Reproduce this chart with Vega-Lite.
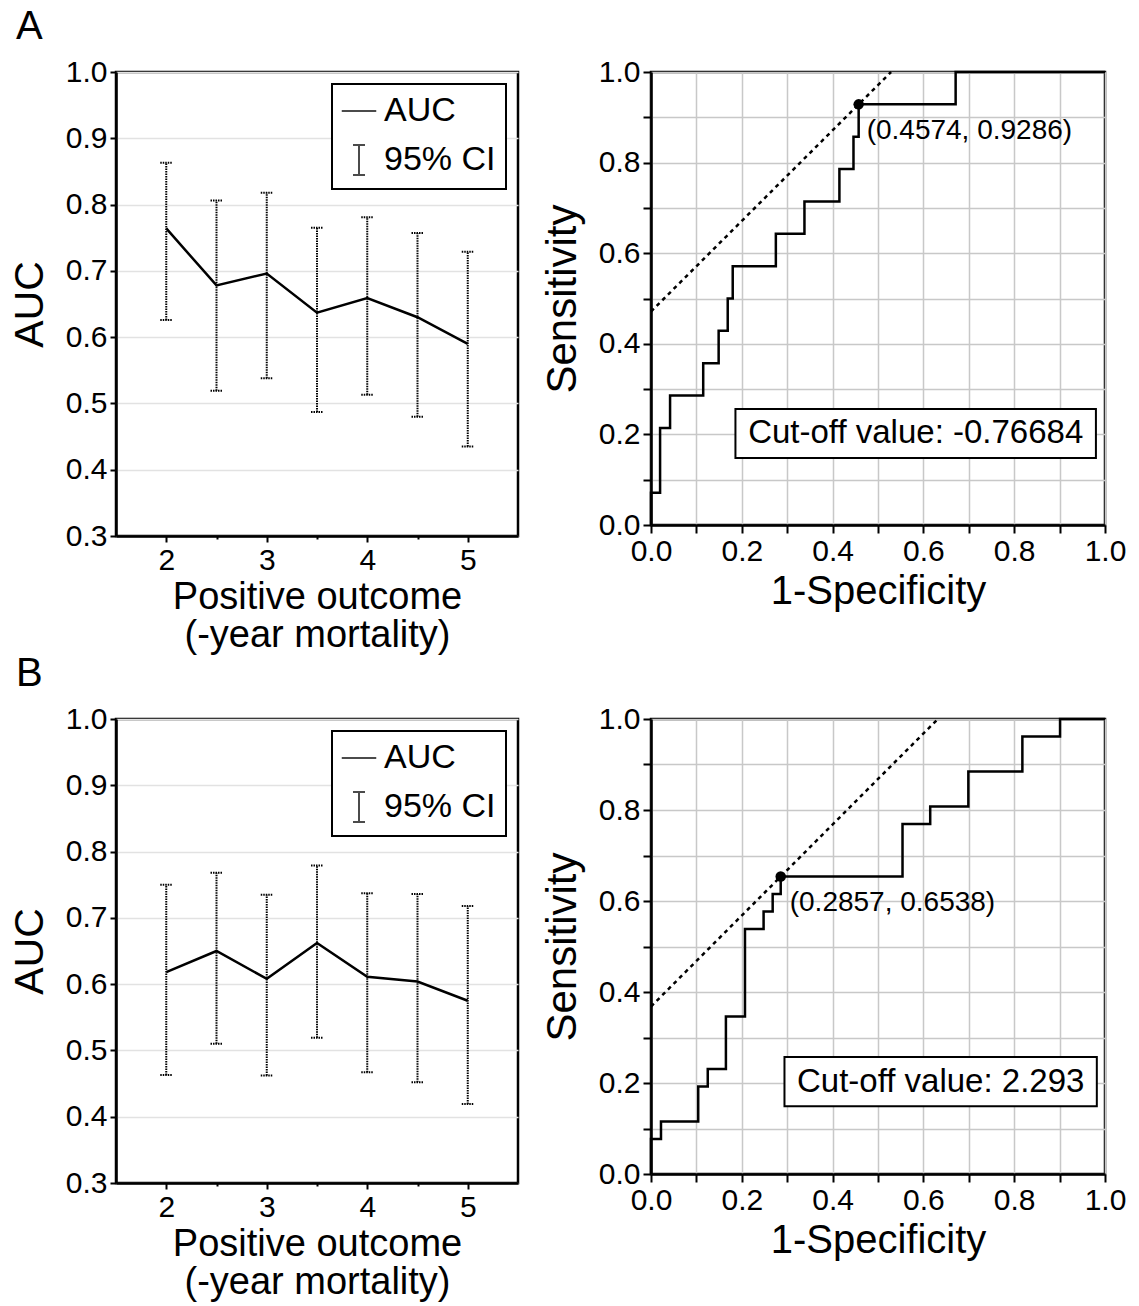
{
  "$schema": "https://vega.github.io/schema/vega-lite/v6.json",
  "padding": {"left": 8, "top": 6, "right": 5, "bottom": 5},
  "background": "white",
  "config": {
    "font": "Liberation Sans",
    "view": {"stroke": "black", "strokeWidth": 2.5},
    "axis": {
      "domainColor": "black", "domainWidth": 2.5,
      "tickColor": "black", "tickWidth": 2,
      "labelFont": "Liberation Sans", "labelFontSize": 30, "labelColor": "black",
      "titleFont": "Liberation Sans", "titleFontWeight": "normal", "titleColor": "black",
      "labelOverlap": false, "labelFlush": false, "labelPadding": 3
    },
    "axisX": {"titleFontSize": 37, "titlePadding": 5},
    "axisY": {"titleFontSize": 41, "titlePadding": 14},
    "legend": {"strokeColor": "black", "strokeWidth": 2, "fillColor": "white"},
    "title": {"fontSize": 40, "fontWeight": "normal", "anchor": "start", "font": "Liberation Sans", "color": "black", "offset": 9, "dx": 8}
  },
  "datasets": {
    "aucA": [
      {"outcome": 2, "auc": 0.764, "lower": 0.626, "upper": 0.863},
      {"outcome": 2.5, "auc": 0.678, "lower": 0.519, "upper": 0.806},
      {"outcome": 3, "auc": 0.696, "lower": 0.538, "upper": 0.818},
      {"outcome": 3.5, "auc": 0.637, "lower": 0.487, "upper": 0.765},
      {"outcome": 4, "auc": 0.659, "lower": 0.513, "upper": 0.781},
      {"outcome": 4.5, "auc": 0.630, "lower": 0.480, "upper": 0.757},
      {"outcome": 5, "auc": 0.590, "lower": 0.435, "upper": 0.729}
    ],
    "aucB": [
      {"outcome": 2, "auc": 0.618, "lower": 0.463, "upper": 0.750},
      {"outcome": 2.5, "auc": 0.650, "lower": 0.510, "upper": 0.768},
      {"outcome": 3, "auc": 0.608, "lower": 0.462, "upper": 0.735},
      {"outcome": 3.5, "auc": 0.662, "lower": 0.519, "upper": 0.779},
      {"outcome": 4, "auc": 0.611, "lower": 0.467, "upper": 0.737},
      {"outcome": 4.5, "auc": 0.604, "lower": 0.452, "upper": 0.736},
      {"outcome": 5, "auc": 0.575, "lower": 0.419, "upper": 0.718}
    ],
    "series": [{"series": "AUC"}, {"series": "95% CI"}],
    "rocA": [
      {"fpr": 0, "tpr": 0}, {"fpr": 0, "tpr": 0.0714}, {"fpr": 0.020, "tpr": 0.2143},
      {"fpr": 0.042, "tpr": 0.2857}, {"fpr": 0.115, "tpr": 0.3571}, {"fpr": 0.149, "tpr": 0.4286},
      {"fpr": 0.169, "tpr": 0.5}, {"fpr": 0.180, "tpr": 0.5714}, {"fpr": 0.275, "tpr": 0.6429},
      {"fpr": 0.338, "tpr": 0.7143}, {"fpr": 0.415, "tpr": 0.7857}, {"fpr": 0.446, "tpr": 0.8571},
      {"fpr": 0.4574, "tpr": 0.9286}, {"fpr": 0.671, "tpr": 1.0}, {"fpr": 1.0, "tpr": 1.0}
    ],
    "rocB": [
      {"fpr": 0, "tpr": 0}, {"fpr": 0, "tpr": 0.0769}, {"fpr": 0.022, "tpr": 0.1154},
      {"fpr": 0.104, "tpr": 0.1923}, {"fpr": 0.125, "tpr": 0.2308}, {"fpr": 0.165, "tpr": 0.3462},
      {"fpr": 0.207, "tpr": 0.5385}, {"fpr": 0.248, "tpr": 0.5769}, {"fpr": 0.268, "tpr": 0.6154},
      {"fpr": 0.2857, "tpr": 0.6538}, {"fpr": 0.554, "tpr": 0.7692}, {"fpr": 0.615, "tpr": 0.8077},
      {"fpr": 0.699, "tpr": 0.8846}, {"fpr": 0.818, "tpr": 0.9615}, {"fpr": 0.901, "tpr": 1.0},
      {"fpr": 1.0, "tpr": 1.0}
    ],
    "tanA": [{"fpr": 0, "tpr": 0.4712}, {"fpr": 0.5288, "tpr": 1.0}],
    "tanB": [{"fpr": 0, "tpr": 0.3681}, {"fpr": 0.6319, "tpr": 1.0}],
    "cutA": [{"fpr": 0.4574, "tpr": 0.9286, "label": "(0.4574, 0.9286)", "cutoff": "Cut-off value: -0.76684"}],
    "cutB": [{"fpr": 0.2857, "tpr": 0.6538, "label": "(0.2857, 0.6538)", "cutoff": "Cut-off value: 2.293"}]
  },
  "spacing": -3,
  "resolve": {"scale": {"shape": "independent"}, "legend": {"shape": "independent"}},
  "vconcat": [
    {
      "title": {"text": "A"},
      "spacing": 20,
      "resolve": {"scale": {"shape": "independent"}, "legend": {"shape": "independent"}},
      "hconcat": [
        {
          "width": 402, "height": 464,
          "data": {"name": "aucA"},
          "encoding": {
            "x": {"field": "outcome", "type": "quantitative", "scale": {"domain": [1.5, 5.5], "nice": false},
              "axis": {"values": [2, 2.5, 3, 3.5, 4, 4.5, 5], "labelExpr": "datum.value % 1 == 0 ? format(datum.value, 'd') : ''",
                "tickSize": {"condition": {"test": "datum.value % 1 == 0", "value": 6}, "value": 3},
                "grid": false, "title": ["Positive outcome", "(-year mortality)"], "titleFontSize": 38, "titleLineHeight": 38, "titlePadding": 3}}
          },
          "layer": [
            {"mark": {"type": "rule", "color": "black", "strokeWidth": 2, "strokeDash": [1.5, 1]},
              "encoding": {
                "y": {"field": "lower", "type": "quantitative", "scale": {"domain": [0.3, 1.0], "nice": false},
                  "axis": {"values": [0.3, 0.35, 0.4, 0.45, 0.5, 0.55, 0.6, 0.65, 0.7, 0.75, 0.8, 0.85, 0.9, 0.95, 1.0],
                    "labelExpr": "abs(datum.value*10 - round(datum.value*10)) < 0.001 ? format(datum.value, '.1f') : ''",
                    "tickSize": {"condition": {"test": "abs(datum.value*10 - round(datum.value*10)) < 0.001", "value": 6}, "value": 3},
                    "grid": true, "gridColor": "#e2e2e2", "gridWidth": 1.5, "title": "AUC"}},
                "y2": {"field": "upper"}}},
            {"mark": {"type": "rule", "color": "black", "strokeWidth": 2, "strokeDash": [1.5, 1], "xOffset": -6, "x2Offset": 6},
              "encoding": {"x2": {"field": "outcome"}, "y": {"field": "upper", "type": "quantitative"}}},
            {"mark": {"type": "rule", "color": "black", "strokeWidth": 2, "strokeDash": [1.5, 1], "xOffset": -6, "x2Offset": 6},
              "encoding": {"x2": {"field": "outcome"}, "y": {"field": "lower", "type": "quantitative"}}},
            {"mark": {"type": "line", "color": "black", "strokeWidth": 2.5},
              "encoding": {"y": {"field": "auc", "type": "quantitative"}}},
            {"data": {"name": "series"}, "transform": [{"filter": "false"}],
              "mark": {"type": "point", "filled": false, "color": "black", "strokeWidth": 2},
              "encoding": {
                "x": {"datum": 3},
                "y": {"datum": 0.5},
                "shape": {"field": "series", "type": "nominal",
                  "scale": {"domain": ["AUC", "95% CI"], "range": ["M-1.15,0H1.15", "M-0.4,-1H0.4M0,-1V1M-0.4,1H0.4"]},
                  "legend": {"orient": "top-right", "offset": 12, "title": null, "labelFontSize": 34, "labelColor": "black",
                    "labelFont": "Liberation Sans", "padding": 10, "symbolSize": 900, "symbolStrokeWidth": 2,
                    "symbolStrokeColor": "black", "symbolFillColor": "transparent", "rowPadding": 13, "labelOffset": 8}}
              }}
          ]
        },
        {
          "width": 454, "height": 453,
          "layer": [
            {"data": {"name": "tanA"}, "mark": {"type": "line", "color": "black", "strokeWidth": 2.5, "strokeDash": [4, 4]},
              "encoding": {
                "x": {"field": "fpr", "type": "quantitative", "scale": {"domain": [0, 1], "nice": false},
                  "axis": {"values": [0, 0.05, 0.1, 0.15, 0.2, 0.25, 0.3, 0.35, 0.4, 0.45, 0.5, 0.55, 0.6, 0.65, 0.7, 0.75, 0.8, 0.85, 0.9, 0.95, 1.0],
                    "labelExpr": "abs(datum.value*5 - round(datum.value*5)) < 0.001 ? format(datum.value, '.1f') : ''",
                    "tickSize": {"condition": {"test": "abs(datum.value*10 - round(datum.value*10)) < 0.001", "value": 8}, "value": 4},
                    "grid": true, "gridColor": "#c8c8c8", "gridWidth": 1.5,
                    "gridOpacity": {"condition": {"test": "abs(datum.value*10 - round(datum.value*10)) < 0.001", "value": 1}, "value": 0},
                    "title": "1-Specificity", "titleFontSize": 40}},
                "y": {"field": "tpr", "type": "quantitative", "scale": {"domain": [0, 1], "nice": false},
                  "axis": {"values": [0, 0.05, 0.1, 0.15, 0.2, 0.25, 0.3, 0.35, 0.4, 0.45, 0.5, 0.55, 0.6, 0.65, 0.7, 0.75, 0.8, 0.85, 0.9, 0.95, 1.0],
                    "labelExpr": "abs(datum.value*5 - round(datum.value*5)) < 0.001 ? format(datum.value, '.1f') : ''",
                    "tickSize": {"condition": {"test": "abs(datum.value*10 - round(datum.value*10)) < 0.001", "value": 8}, "value": 4},
                    "grid": true, "gridColor": "#c8c8c8", "gridWidth": 1.5,
                    "gridOpacity": {"condition": {"test": "abs(datum.value*10 - round(datum.value*10)) < 0.001", "value": 1}, "value": 0},
                    "title": "Sensitivity", "titleFontSize": 42}}
              }},
            {"data": {"name": "rocA"}, "mark": {"type": "line", "interpolate": "step-after", "color": "black", "strokeWidth": 2.5},
              "encoding": {"x": {"field": "fpr", "type": "quantitative"}, "y": {"field": "tpr", "type": "quantitative"}}},
            {"data": {"name": "cutA"}, "mark": {"type": "point", "filled": true, "color": "black", "size": 110, "opacity": 1},
              "encoding": {"x": {"field": "fpr", "type": "quantitative"}, "y": {"field": "tpr", "type": "quantitative"}}},
            {"data": {"name": "cutA"}, "mark": {"type": "text", "align": "left", "baseline": "middle", "dx": 8, "dy": 27, "fontSize": 28, "color": "black"},
              "encoding": {"x": {"field": "fpr", "type": "quantitative"}, "y": {"field": "tpr", "type": "quantitative"}, "text": {"field": "label"}}},
            {"data": {"name": "cutA"}, "mark": {"type": "rect", "fill": "white", "stroke": "black", "strokeWidth": 2},
              "encoding": {"x": {"datum": 0.186}, "x2": {"datum": 0.98}, "y": {"datum": 0.148}, "y2": {"datum": 0.256}}},
            {"data": {"name": "cutA"}, "mark": {"type": "text", "align": "center", "baseline": "middle", "fontSize": 33, "color": "black"},
              "encoding": {"x": {"datum": 0.583}, "y": {"datum": 0.202}, "text": {"field": "cutoff"}}}
          ]
        }
      ]
    },
    {
      "title": {"text": "B"},
      "spacing": 20,
      "resolve": {"scale": {"shape": "independent"}, "legend": {"shape": "independent"}},
      "hconcat": [
        {
          "width": 402, "height": 464,
          "data": {"name": "aucB"},
          "encoding": {
            "x": {"field": "outcome", "type": "quantitative", "scale": {"domain": [1.5, 5.5], "nice": false},
              "axis": {"values": [2, 2.5, 3, 3.5, 4, 4.5, 5], "labelExpr": "datum.value % 1 == 0 ? format(datum.value, 'd') : ''",
                "tickSize": {"condition": {"test": "datum.value % 1 == 0", "value": 6}, "value": 3},
                "grid": false, "title": ["Positive outcome", "(-year mortality)"], "titleFontSize": 38, "titleLineHeight": 38, "titlePadding": 3}}
          },
          "layer": [
            {"mark": {"type": "rule", "color": "black", "strokeWidth": 2, "strokeDash": [1.5, 1]},
              "encoding": {
                "y": {"field": "lower", "type": "quantitative", "scale": {"domain": [0.3, 1.0], "nice": false},
                  "axis": {"values": [0.3, 0.35, 0.4, 0.45, 0.5, 0.55, 0.6, 0.65, 0.7, 0.75, 0.8, 0.85, 0.9, 0.95, 1.0],
                    "labelExpr": "abs(datum.value*10 - round(datum.value*10)) < 0.001 ? format(datum.value, '.1f') : ''",
                    "tickSize": {"condition": {"test": "abs(datum.value*10 - round(datum.value*10)) < 0.001", "value": 6}, "value": 3},
                    "grid": true, "gridColor": "#e2e2e2", "gridWidth": 1.5, "title": "AUC"}},
                "y2": {"field": "upper"}}},
            {"mark": {"type": "rule", "color": "black", "strokeWidth": 2, "strokeDash": [1.5, 1], "xOffset": -6, "x2Offset": 6},
              "encoding": {"x2": {"field": "outcome"}, "y": {"field": "upper", "type": "quantitative"}}},
            {"mark": {"type": "rule", "color": "black", "strokeWidth": 2, "strokeDash": [1.5, 1], "xOffset": -6, "x2Offset": 6},
              "encoding": {"x2": {"field": "outcome"}, "y": {"field": "lower", "type": "quantitative"}}},
            {"mark": {"type": "line", "color": "black", "strokeWidth": 2.5},
              "encoding": {"y": {"field": "auc", "type": "quantitative"}}},
            {"data": {"name": "series"}, "transform": [{"filter": "false"}],
              "mark": {"type": "point", "filled": false, "color": "black", "strokeWidth": 2},
              "encoding": {
                "x": {"datum": 3},
                "y": {"datum": 0.5},
                "shape": {"field": "series", "type": "nominal",
                  "scale": {"domain": ["AUC", "95% CI"], "range": ["M-1.15,0H1.15", "M-0.4,-1H0.4M0,-1V1M-0.4,1H0.4"]},
                  "legend": {"orient": "top-right", "offset": 12, "title": null, "labelFontSize": 34, "labelColor": "black",
                    "labelFont": "Liberation Sans", "padding": 10, "symbolSize": 900, "symbolStrokeWidth": 2,
                    "symbolStrokeColor": "black", "symbolFillColor": "transparent", "rowPadding": 13, "labelOffset": 8}}
              }}
          ]
        },
        {
          "width": 454, "height": 455,
          "layer": [
            {"data": {"name": "tanB"}, "mark": {"type": "line", "color": "black", "strokeWidth": 2.5, "strokeDash": [4, 4]},
              "encoding": {
                "x": {"field": "fpr", "type": "quantitative", "scale": {"domain": [0, 1], "nice": false},
                  "axis": {"values": [0, 0.05, 0.1, 0.15, 0.2, 0.25, 0.3, 0.35, 0.4, 0.45, 0.5, 0.55, 0.6, 0.65, 0.7, 0.75, 0.8, 0.85, 0.9, 0.95, 1.0],
                    "labelExpr": "abs(datum.value*5 - round(datum.value*5)) < 0.001 ? format(datum.value, '.1f') : ''",
                    "tickSize": {"condition": {"test": "abs(datum.value*10 - round(datum.value*10)) < 0.001", "value": 8}, "value": 4},
                    "grid": true, "gridColor": "#c8c8c8", "gridWidth": 1.5,
                    "gridOpacity": {"condition": {"test": "abs(datum.value*10 - round(datum.value*10)) < 0.001", "value": 1}, "value": 0},
                    "title": "1-Specificity", "titleFontSize": 40}},
                "y": {"field": "tpr", "type": "quantitative", "scale": {"domain": [0, 1], "nice": false},
                  "axis": {"values": [0, 0.05, 0.1, 0.15, 0.2, 0.25, 0.3, 0.35, 0.4, 0.45, 0.5, 0.55, 0.6, 0.65, 0.7, 0.75, 0.8, 0.85, 0.9, 0.95, 1.0],
                    "labelExpr": "abs(datum.value*5 - round(datum.value*5)) < 0.001 ? format(datum.value, '.1f') : ''",
                    "tickSize": {"condition": {"test": "abs(datum.value*10 - round(datum.value*10)) < 0.001", "value": 8}, "value": 4},
                    "grid": true, "gridColor": "#c8c8c8", "gridWidth": 1.5,
                    "gridOpacity": {"condition": {"test": "abs(datum.value*10 - round(datum.value*10)) < 0.001", "value": 1}, "value": 0},
                    "title": "Sensitivity", "titleFontSize": 42}}
              }},
            {"data": {"name": "rocB"}, "mark": {"type": "line", "interpolate": "step-after", "color": "black", "strokeWidth": 2.5},
              "encoding": {"x": {"field": "fpr", "type": "quantitative"}, "y": {"field": "tpr", "type": "quantitative"}}},
            {"data": {"name": "cutB"}, "mark": {"type": "point", "filled": true, "color": "black", "size": 110, "opacity": 1},
              "encoding": {"x": {"field": "fpr", "type": "quantitative"}, "y": {"field": "tpr", "type": "quantitative"}}},
            {"data": {"name": "cutB"}, "mark": {"type": "text", "align": "left", "baseline": "middle", "dx": 9, "dy": 26, "fontSize": 28, "color": "black"},
              "encoding": {"x": {"field": "fpr", "type": "quantitative"}, "y": {"field": "tpr", "type": "quantitative"}, "text": {"field": "label"}}},
            {"data": {"name": "cutB"}, "mark": {"type": "rect", "fill": "white", "stroke": "black", "strokeWidth": 2},
              "encoding": {"x": {"datum": 0.294}, "x2": {"datum": 0.982}, "y": {"datum": 0.149}, "y2": {"datum": 0.257}}},
            {"data": {"name": "cutB"}, "mark": {"type": "text", "align": "center", "baseline": "middle", "fontSize": 33, "color": "black"},
              "encoding": {"x": {"datum": 0.638}, "y": {"datum": 0.203}, "text": {"field": "cutoff"}}}
          ]
        }
      ]
    }
  ]
}
